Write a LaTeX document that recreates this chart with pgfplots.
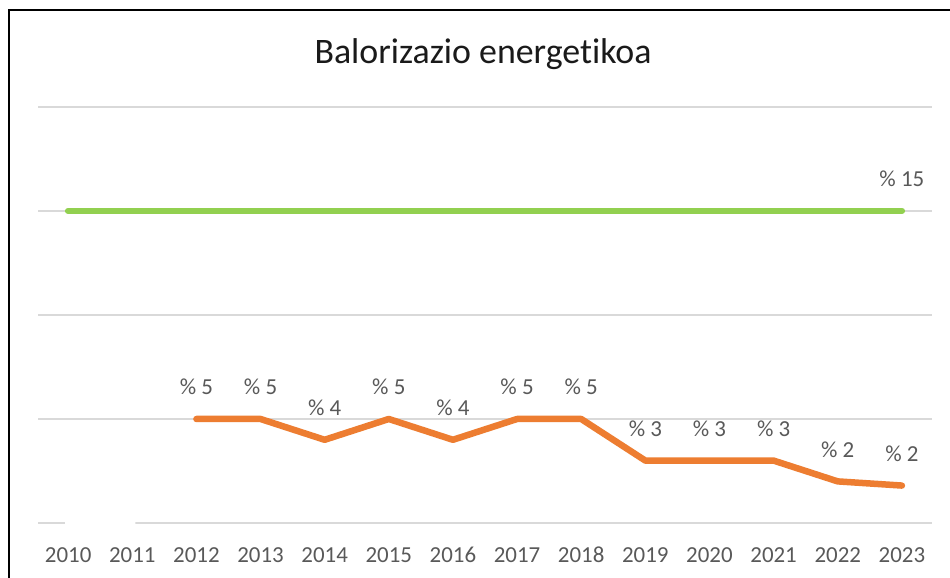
\documentclass[border=0pt]{standalone}
\usepackage{pgfplots}
\pgfplotsset{compat=1.18}
\usepackage{fontspec}
\setmainfont{Carlito}[Ligatures={NoCommon}]
\definecolor{grn}{HTML}{92D050}
\definecolor{org}{HTML}{ED7D31}
\definecolor{grd}{HTML}{D9D9D9}
\definecolor{txt}{HTML}{595959}
\definecolor{ttl}{HTML}{1A1A1A}
\begin{document}
\begin{tikzpicture}[x=1bp,y=1bp]
\useasboundingbox (0,0) rectangle (950,578);
\fill[white] (0,0) rectangle (950,578);
\begin{axis}[
  at={(38bp,55bp)}, anchor=south west,
  width=894bp, height=416bp, scale only axis,
  xmin=-0.47, xmax=13.47, ymin=0, ymax=20,
  clip=false,
  axis line style={draw=none},
  tick style={draw=none},
  ytick={0,5,10,15,20}, yticklabels={},
  ymajorgrids, grid style={grd, line width=2bp},
  xtick={0,...,13},
  xticklabels={2010,2011,2012,2013,2014,2015,2016,2017,2018,2019,2020,2021,2022,2023},
  xticklabel style={anchor=base, yshift=-40bp, font=\fontsize{23}{27}\selectfont, text=txt},
  /pgf/number format/assume math mode=true,
]
% white series covering baseline (2010-2011)
\addplot[white, line width=6.5bp, line cap=round, mark=none] coordinates {(0,0) (1,0)};
% green series
\addplot[grn, line width=6.5bp, line cap=round, line join=round, mark=none] coordinates {
(0,15) (1,15) (2,15) (3,15) (4,15) (5,15) (6,15) (7,15) (8,15) (9,15) (10,15) (11,15) (12,15) (13,15)};
\addplot[draw=none, mark=none, point meta=explicit,
  nodes near coords={\%~\pgfmathprintnumber{\pgfplotspointmeta}},
  every node near coord/.style={anchor=base, yshift=24bp, font=\fontsize{23}{27}\selectfont, text=txt}]
  coordinates {(13,15) [15]};
% orange series
\addplot[org, line width=6.5bp, line cap=round, line join=round, mark=none, point meta=explicit,
  nodes near coords={\%~\pgfmathprintnumber{\pgfplotspointmeta}},
  every node near coord/.style={anchor=base, yshift=24bp, font=\fontsize{23}{27}\selectfont, text=txt}]
  coordinates {
(2,5) [5] (3,5) [5] (4,4) [4] (5,5) [5] (6,4) [4] (7,5) [5] (8,5) [5]
(9,3) [3] (10,3) [3] (11,3) [3] (12,2) [2] (13,1.8) [2]};
\end{axis}
\node[anchor=base, font=\fontsize{36}{42}\selectfont, text=ttl] at (483,514.5) {Balorizazio energetikoa};
\draw[line width=2.4bp, black] (9,0) -- (9,568) -- (950,568);
\end{tikzpicture}
\end{document}
